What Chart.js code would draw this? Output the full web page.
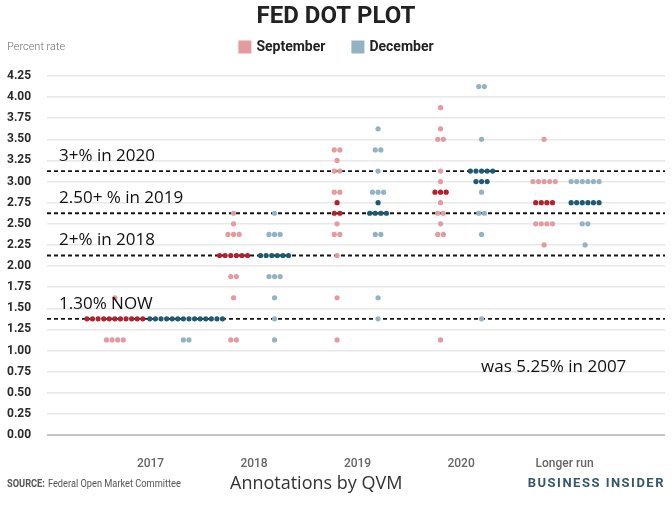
<!DOCTYPE html>
<html>
<head>
<meta charset="utf-8">
<title>Fed dot plot</title>
<script src="https://cdn.jsdelivr.net/npm/chart.js@4.4.0/dist/chart.umd.min.js"></script>
<style>
  html, body { margin: 0; padding: 0; background: #fff; }
  #wrap { width: 672px; height: 506px; }
</style>
</head>
<body>
<div id="wrap"><canvas id="chart"></canvas></div>
<script>
// categories along the x axis
const years = ['2017', '2018', '2019', '2020', 'Longer run'];

// September projections: [rate, number of participants]
const sept2017 = [[1.625, 1], [1.375, 11], [1.125, 4]];
const sept2018 = [[2.625, 1], [2.5, 1], [2.375, 3], [2.125, 6], [1.875, 2], [1.625, 1], [1.125, 2]];
const sept2019 = [[3.375, 2], [3.25, 1], [3.125, 2], [2.875, 2], [2.75, 1], [2.625, 2], [2.5, 1],
                  [2.375, 2], [2.125, 1], [1.625, 1], [1.125, 1]];
const sept2020 = [[3.875, 1], [3.625, 1], [3.5, 2], [3.125, 1], [3.0, 1], [2.875, 3], [2.75, 1],
                  [2.625, 2], [2.5, 1], [2.375, 2], [1.125, 1]];
const septLong = [[3.5, 1], [3.0, 5], [2.75, 4], [2.5, 4], [2.25, 1]];

// December projections
const dec2017 = [[1.375, 14], [1.125, 2]];
const dec2018 = [[2.625, 1], [2.375, 3], [2.125, 6], [1.875, 3], [1.625, 1], [1.375, 1], [1.125, 1]];
const dec2019 = [[3.625, 1], [3.375, 2], [3.125, 1], [2.875, 3], [2.75, 1], [2.625, 4],
                 [2.375, 2], [1.625, 1], [1.375, 1]];
const dec2020 = [[4.125, 2], [3.5, 1], [3.125, 5], [3.0, 3], [2.875, 1], [2.625, 2],
                 [2.375, 1], [1.375, 1]];
const decLong = [[3.0, 6], [2.75, 6], [2.5, 2], [2.25, 1]];

// rows drawn in the darker shade (median)
const septMedians = [[1.375], [2.125], [2.75, 2.625], [2.875], [2.75]];
const decMedians = [[1.375], [2.125], [2.75, 2.625], [3.125, 3.0], [2.75]];

// hand-drawn annotation lines
const guideRates = [1.375, 2.125, 2.625, 3.125];
const guideLabels = ['1.30% NOW', '2+% in 2018', '2.50+ % in 2019', '3+% in 2020'];

const septByYear = [sept2017, sept2018, sept2019, sept2020, septLong];
const decByYear = [dec2017, dec2018, dec2019, dec2020, decLong];

const X_MIN = -1, X_MAX = 4.97;
const DOT_STEP = 0.054;   // horizontal distance between dots of one row
const BASE_SEP = 0.396;   // distance between Sept and Dec clusters
const GAP = 0.068;

const PINK = '#e39ba0', RED = '#b3212f';
const LIGHTBLUE = '#93b3c3', DARKBLUE = '#1f5a74';

function widest(rows) {
  return Math.max(...rows.map(r => r[1]));
}

function clusterPoints(rows, center, medians, wantMedian) {
  const pts = [];
  rows.forEach(([rate, n]) => {
    if (medians.includes(rate) !== wantMedian) return;
    for (let j = 0; j < n; j++) {
      pts.push({ x: center + (j - (n - 1) / 2) * DOT_STEP, y: rate });
    }
  });
  return pts;
}

const septLight = [], septDark = [], decLight = [], decDark = [];
years.forEach((y, i) => {
  const s = septByYear[i], d = decByYear[i];
  const need = ((widest(s) - 1) / 2 + (widest(d) - 1) / 2) * DOT_STEP + GAP;
  const sep = Math.max(BASE_SEP, need);
  septLight.push(...clusterPoints(s, i - sep / 2, septMedians[i], false));
  septDark.push(...clusterPoints(s, i - sep / 2, septMedians[i], true));
  decLight.push(...clusterPoints(d, i + sep / 2, decMedians[i], false));
  decDark.push(...clusterPoints(d, i + sep / 2, decMedians[i], true));
});

function dots(data, color) {
  return {
    type: 'scatter', data: data, order: 1,
    pointRadius: 2.6, pointHoverRadius: 2.6,
    pointBackgroundColor: color, pointBorderWidth: 0, borderWidth: 0
  };
}

const guideSets = guideRates.map(r => ({
  type: 'line',
  data: [{ x: X_MIN, y: r }, { x: X_MAX, y: r }],
  order: 5,
  borderColor: '#141414', borderWidth: 1.8, borderDash: [4, 3],
  pointRadius: 0, fill: false
}));

// draw text squeezed horizontally to a given width (condensed look)
function squeezed(ctx, text, x, y, scaleX) {
  ctx.save();
  ctx.translate(x, y);
  ctx.scale(scaleX, 1);
  ctx.fillText(text, 0, 0);
  ctx.restore();
  return ctx.measureText(text).width * scaleX;
}

const decor = {
  id: 'decor',
  afterDatasetsDraw(chart) {
    const ctx = chart.ctx;
    const xs = chart.scales.x, ys = chart.scales.y;
    const cx = chart.width / 2;
    ctx.save();
    ctx.textBaseline = 'middle';

    // title
    ctx.fillStyle = '#222';
    ctx.font = '700 24px Roboto';
    ctx.textAlign = 'center';
    ctx.fillText('FED DOT PLOT', cx, 17);

    // axis caption
    ctx.textAlign = 'left';
    ctx.font = '300 11px Roboto';
    ctx.fillStyle = '#6f6f6f';
    ctx.fillText('Percent rate', 7, 47);

    // legend
    const items = [['September', PINK], ['December', LIGHTBLUE]];
    ctx.font = '700 14px Roboto';
    const box = 13, pad = 5, between = 26;
    const widths = items.map(it => box + pad + ctx.measureText(it[0]).width);
    let lx = cx - (widths[0] + widths[1] + between) / 2;
    items.forEach((it, k) => {
      ctx.fillStyle = it[1];
      ctx.fillRect(lx, 47 - box / 2, box, box);
      ctx.fillStyle = '#222';
      ctx.fillText(it[0], lx + box + pad, 47);
      lx += widths[k] + between;
    });

    // annotation labels above the dashed lines
    ctx.font = '17px "Open Sans"';
    ctx.fillStyle = '#111';
    guideRates.forEach((r, k) => {
      ctx.fillText(guideLabels[k], chart.chartArea.left + 12, ys.getPixelForValue(r) - 15);
    });
    ctx.fillText('was 5.25% in 2007', xs.getPixelForValue(3) + 20, ys.getPixelForValue(0.8));

    // footer
    const fy = 484;
    ctx.fillStyle = '#555';
    ctx.font = '700 11px Roboto';
    let fx = 7 + squeezed(ctx, 'SOURCE:', 7, fy, 0.84);
    ctx.font = '400 11px Roboto';
    fx += 3;
    squeezed(ctx, 'Federal Open Market Committee', fx, fy, 0.84);

    ctx.font = '18px "Open Sans"';
    ctx.fillStyle = '#333';
    ctx.fillText('Annotations by QVM', 230, fy);

    ctx.font = '700 13px Roboto';
    ctx.fillStyle = '#35586c';
    ctx.textAlign = 'right';
    if ('letterSpacing' in ctx) ctx.letterSpacing = '1.5px';
    ctx.fillText('BUSINESS INSIDER', 665, fy);
    ctx.restore();
  }
};

new Chart(document.getElementById('chart'), {
  type: 'scatter',
  data: {
    datasets: [
      dots(septLight, PINK), dots(septDark, RED),
      dots(decLight, LIGHTBLUE), dots(decDark, DARKBLUE),
      ...guideSets
    ]
  },
  options: {
    responsive: true,
    maintainAspectRatio: false,
    animation: false,
    layout: { padding: { left: 7, right: 7, top: 76, bottom: 31 } },
    plugins: {
      legend: { display: false },
      title: { display: false },
      tooltip: { enabled: false }
    },
    scales: {
      x: {
        type: 'linear', min: X_MIN, max: X_MAX,
        grid: { display: false },
        border: { display: false },
        afterBuildTicks: s => { s.ticks = years.map((_, i) => ({ value: i })); },
        afterFit: s => { s.height = 40; },
        ticks: {
          callback: (v, i) => years[i],
          color: '#666',
          font: { family: 'Roboto', size: 12, weight: '500' },
          padding: 14,
          maxRotation: 0
        }
      },
      y: {
        min: 0, max: 4.25,
        afterFit: s => { s.width = 40; },
        grid: {
          drawTicks: false,
          color: c => c.tick && c.tick.value === 0 ? '#c4c4c4' : '#e8e8e8',
          lineWidth: c => c.tick && c.tick.value === 0 ? 2 : 1.5
        },
        border: { display: false },
        ticks: {
          stepSize: 0.25,
          callback: v => v.toFixed(2),
          color: '#2a2a2a',
          font: { family: 'Roboto', size: 12, weight: '700' },
          crossAlign: 'far',
          padding: 0
        }
      }
    }
  },
  plugins: [decor]
});
</script>
</body>
</html>
